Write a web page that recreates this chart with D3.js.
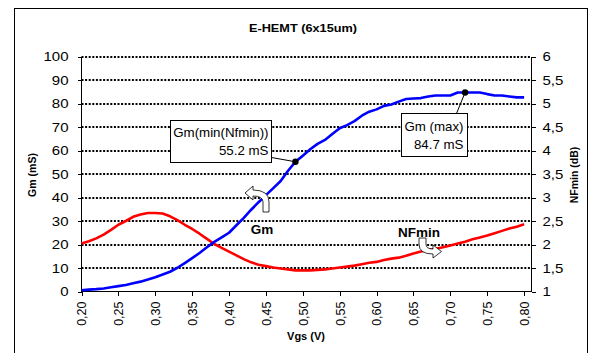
<!DOCTYPE html>
<html>
<head>
<meta charset="utf-8">
<script src="https://cdn.jsdelivr.net/npm/d3@7"></script>
<style>
  html, body { margin: 0; padding: 0; background: #fff; }
  svg { display: block; font-family: "Liberation Sans", Arial, sans-serif; }
  .axis path, .axis line { stroke: #000; stroke-width: 1; shape-rendering: crispEdges; }
  .axis text { font-size: 12.5px; fill: #000; }
</style>
</head>
<body>
<svg id="chart" width="594" height="353"></svg>
<script>
// Gate voltage sweep (V)
const vgs = [0.20, 0.21, 0.22, 0.23, 0.24, 0.25, 0.26, 0.27, 0.28, 0.29,
             0.30, 0.31, 0.32, 0.33, 0.34, 0.35, 0.36, 0.37, 0.38, 0.39,
             0.40, 0.41, 0.42, 0.43, 0.44, 0.45, 0.46, 0.47, 0.48, 0.49,
             0.50, 0.51, 0.52, 0.53, 0.54, 0.55, 0.56, 0.57, 0.58, 0.59,
             0.60, 0.61, 0.62, 0.63, 0.64, 0.65, 0.66, 0.67, 0.68, 0.69,
             0.70, 0.71, 0.72, 0.73, 0.74, 0.75, 0.76, 0.77, 0.78, 0.79, 0.80];

// Transconductance (mS)
const gm = [0.5, 0.8, 1.0, 1.3, 1.8, 2.3, 2.8, 3.5, 4.2, 5.1,
            6.1, 7.2, 8.4, 10.1, 12.1, 14.2, 16.4, 18.8, 21.1, 23.0,
            25.0, 28.2, 31.3, 34.8, 38.0, 41.0, 44.0, 47.0, 51.4, 55.2,
            57.8, 60.5, 62.8, 64.5, 67.0, 69.5, 70.8, 72.5, 74.8, 76.5,
            77.5, 79.0, 79.6, 80.8, 81.9, 82.1, 82.3, 83.0, 83.4, 83.4,
            83.4, 84.7, 84.7, 84.7, 84.7, 84.0, 83.4, 83.4, 83.0, 82.6, 82.6];

// Minimum noise figure (dB)
const nfmin = [2.02, 2.07, 2.13, 2.21, 2.31, 2.42, 2.50, 2.59, 2.64, 2.67,
               2.67, 2.66, 2.60, 2.52, 2.42, 2.33, 2.23, 2.12, 2.01, 1.93,
               1.85, 1.77, 1.69, 1.62, 1.57, 1.54, 1.51, 1.49, 1.47, 1.45,
               1.45, 1.45, 1.46, 1.47, 1.49, 1.51, 1.53, 1.55, 1.58, 1.61,
               1.63, 1.67, 1.70, 1.72, 1.76, 1.81, 1.85, 1.88, 1.91, 1.94,
               1.98, 2.02, 2.06, 2.11, 2.15, 2.19, 2.24, 2.29, 2.34, 2.38, 2.43];

// Axis ticks
const xTicks  = [0.20, 0.25, 0.30, 0.35, 0.40, 0.45, 0.50, 0.55, 0.60, 0.65, 0.70, 0.75, 0.80];
const gmTicks = [0, 10, 20, 30, 40, 50, 60, 70, 80, 90, 100];
const nfTicks = [1, 1.5, 2, 2.5, 3, 3.5, 4, 4.5, 5, 5.5, 6];

// Highlighted points: Gm at the NFmin minimum and Gm maximum
const markVgs   = [0.49, 0.72];
const markGm    = [55.2, 84.7];
const markTitle = ["Gm(min(Nfmin))", "Gm (max)"];
const markValue = ["55.2 mS", "84.7 mS"];

const commaFmt = (f) => (v) => d3.format(f)(v).replace(".", ",");

const svg = d3.select("#chart");

const x  = d3.scaleLinear().domain([0.20, 0.81]).range([81.5, 531.5]);
const yL = d3.scaleLinear().domain([0, 100]).range([291.5, 56.5]);
const yR = d3.scaleLinear().domain([1, 6]).range([291.5, 56.5]);

// Outer frame
svg.append("rect")
  .attr("x", 14.5).attr("y", 8.5)
  .attr("width", 573).attr("height", 360)
  .attr("fill", "#fff").attr("stroke", "#000").attr("stroke-width", 1);

// Title
svg.append("text")
  .attr("x", 303).attr("y", 32)
  .attr("text-anchor", "middle")
  .attr("font-size", 11).attr("font-weight", "bold")
  .attr("textLength", 108).attr("lengthAdjust", "spacingAndGlyphs")
  .text("E-HEMT (6x15um)");

// Dotted horizontal grid
svg.append("g")
  .selectAll("line")
  .data(gmTicks.filter(d => d > 0))
  .join("line")
  .attr("x1", x.range()[0]).attr("x2", x.range()[1])
  .attr("y1", d => Math.round(yL(d))).attr("y2", d => Math.round(yL(d)))
  .attr("stroke", "#000")
  .attr("stroke-width", 2)
  .attr("stroke-dasharray", "2,1.6");

// Left axis (Gm)
const axL = svg.append("g").attr("class", "axis")
  .attr("transform", `translate(${x.range()[0]},0)`)
  .call(d3.axisLeft(yL).tickValues(gmTicks).tickSize(4).tickPadding(9).tickFormat(d3.format("d")));
axL.select(".domain").attr("d", `M0,${yL(0)}V${yL(100)}`);
axL.selectAll("text").attr("transform", "scale(1.2,1)").attr("x", -13 / 1.2)
  .attr("text-anchor", "end");

// Right axis (NFmin)
const axR = svg.append("g").attr("class", "axis")
  .attr("transform", `translate(${x.range()[1]},0)`)
  .call(d3.axisRight(yR).tickValues(nfTicks).tickSize(4).tickPadding(7).tickFormat(d => commaFmt("")(d)));
axR.select(".domain").attr("d", `M0,${yR(1)}V${yR(6)}`);
axR.selectAll("text").attr("transform", "scale(1.2,1)").attr("x", 11 / 1.2);

// Bottom axis (Vgs)
const axB = svg.append("g").attr("class", "axis")
  .attr("transform", `translate(0,${yL(0)})`)
  .call(d3.axisBottom(x).tickValues(xTicks).tickSize(4).tickFormat(commaFmt(".2f")));
axB.select(".domain").attr("d", `M${x.range()[0]},0H${x.range()[1]}`);
axB.selectAll("text")
  .attr("font-size", 12)
  .attr("transform", "rotate(-90)")
  .attr("text-anchor", "end")
  .attr("x", -10).attr("y", 0).attr("dy", "0.35em");

// Axis titles
svg.append("text")
  .attr("transform", "translate(35.5,175) rotate(-90)")
  .attr("text-anchor", "middle")
  .attr("font-size", 10.5).attr("font-weight", "bold")
  .text("Gm (mS)");
svg.append("text")
  .attr("transform", "translate(578,175) rotate(-90)")
  .attr("text-anchor", "middle")
  .attr("font-size", 10.5).attr("font-weight", "bold")
  .text("NFmin (dB)");
svg.append("text")
  .attr("x", 306).attr("y", 339.5)
  .attr("text-anchor", "middle")
  .attr("font-size", 11).attr("font-weight", "bold")
  .text("Vgs (V)");

// Series lines
const gmLine = d3.line().x((d, i) => x(vgs[i])).y(d => yL(d));
const nfLine = d3.line().x((d, i) => x(vgs[i])).y(d => yR(d));

svg.append("path").datum(nfmin)
  .attr("d", nfLine)
  .attr("fill", "none").attr("stroke", "#ff0000")
  .attr("stroke-width", 2.6).attr("stroke-linejoin", "round");

svg.append("path").datum(gm)
  .attr("d", gmLine)
  .attr("fill", "none").attr("stroke", "#0000ff")
  .attr("stroke-width", 2.6).attr("stroke-linejoin", "round");

// Series callouts with curved block arrows
const arrowStyle = (sel) => sel.attr("fill", "#fff").attr("stroke", "#000").attr("stroke-width", 0.8);

svg.append("path")
  .attr("transform", "translate(245,186)")
  .attr("d", "M0,7 L8,0 L8,4 Q24,4 24,16 L24,26 L18,26 L18,16 Q18,10 8,10 L8,14 Z")
  .call(arrowStyle);
svg.append("text")
  .attr("x", 262).attr("y", 234)
  .attr("text-anchor", "middle")
  .attr("font-size", 13.5).attr("font-weight", "bold")
  .text("Gm");

svg.append("text")
  .attr("x", 419).attr("y", 236.5)
  .attr("text-anchor", "middle")
  .attr("font-size", 13.5).attr("font-weight", "bold")
  .text("NFmin");
svg.append("path")
  .attr("transform", "translate(419,238)")
  .attr("d", "M0,0 L7,0 L7,6 Q7,11 14,11 L14,7 L22.5,13.5 L14,20 L14,16 Q0,16 0,6 Z")
  .call(arrowStyle);

// Value callout boxes
const boxes = [
  { x: 170.5, y: 120.5, w: 101, h: 42, lx: 271.5, ly: 157.5, tx: 268.5, b1: 136.5, b2: 155 },
  { x: 401.5, y: 113.5, w: 66,  h: 43, lx: 456.5, ly: 113.5, tx: 463.5, b1: 130.5, b2: 148.5 }
];

boxes.forEach((b, i) => {
  const px = x(markVgs[i]), py = yL(markGm[i]);
  svg.append("line")
    .attr("x1", b.lx).attr("y1", b.ly).attr("x2", px).attr("y2", py)
    .attr("stroke", "#000").attr("stroke-width", 1);
  svg.append("rect")
    .attr("x", b.x).attr("y", b.y).attr("width", b.w).attr("height", b.h)
    .attr("fill", "#fff").attr("stroke", "#000").attr("stroke-width", 1);
  svg.append("text")
    .attr("x", b.tx).attr("y", b.b1).attr("text-anchor", "end")
    .attr("font-size", 13.3).text(markTitle[i]);
  svg.append("text")
    .attr("x", b.tx).attr("y", b.b2).attr("text-anchor", "end")
    .attr("font-size", 13.3).text(markValue[i]);
  svg.append("circle")
    .attr("cx", px).attr("cy", py).attr("r", 3.2).attr("fill", "#000");
});
</script>
</body>
</html>
